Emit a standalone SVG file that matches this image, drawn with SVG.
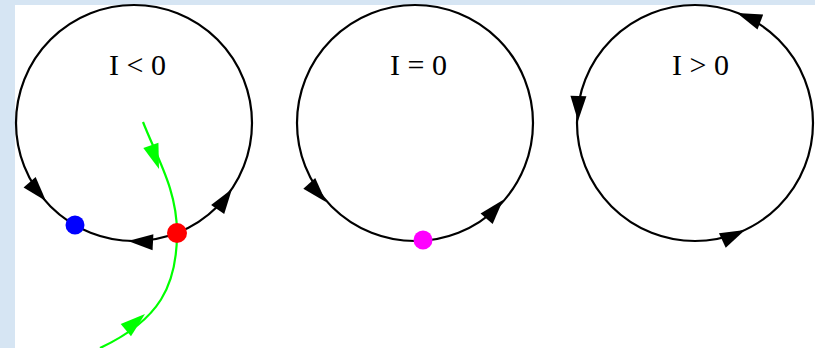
<svg xmlns="http://www.w3.org/2000/svg" xmlns:xlink="http://www.w3.org/1999/xlink" width="815" height="348" viewBox="0 0 815 348">
<style>
.orbit{fill:none;stroke:#000;stroke-width:2.2}
.traj{fill:none;stroke:#00ff00;stroke-width:2.2}
.lbl{font-family:"Liberation Serif","Times New Roman",serif;font-size:30px;fill:#000}
.ab{fill:#000}
.ag{fill:#00ff00}
</style>
<defs>
<polygon id="ah" points="0,0 -25,-8 -25,8"/>
</defs>
<rect x="0" y="0" width="815" height="348" fill="#d6e5f3"/>
<rect x="15" y="5" width="800" height="343" fill="#ffffff"/>

<g id="panel-neg">
<circle class="orbit" cx="134" cy="123" r="118"/>
<text class="lbl" x="109" y="75">I &lt; 0</text>
<use xlink:href="#ah" class="ab" transform="translate(46,201) rotate(49)"/>
<use xlink:href="#ah" class="ab" transform="translate(128,241) rotate(183)"/>
<use xlink:href="#ah" class="ab" transform="translate(232,189) rotate(-55)"/>
</g>

<g id="connectors">
<path class="traj" d="M143,122 C158,160 177,190 177,233 C177,285 160,320 100,348"/>
<use xlink:href="#ah" class="ag" transform="translate(159,169) rotate(71)"/>
<use xlink:href="#ah" class="ag" transform="translate(145,314) rotate(-40)"/>
</g>

<g id="node-stable">
<circle cx="75" cy="225" r="9.5" fill="#0000ff"/>
</g>
<g id="node-saddle">
<circle cx="177" cy="233" r="10" fill="#ff0000"/>
</g>

<g id="panel-zero">
<circle class="orbit" cx="415" cy="123" r="118"/>
<text class="lbl" x="390" y="75">I = 0</text>
<use xlink:href="#ah" class="ab" transform="translate(326,202) rotate(48)"/>
<use xlink:href="#ah" class="ab" transform="translate(503,200) rotate(-49)"/>
<circle id="node-saddlenode" cx="423" cy="240" r="9.5" fill="#ff00ff"/>
</g>

<g id="panel-pos">
<circle class="orbit" cx="695" cy="123" r="118"/>
<text class="lbl" x="672" y="75">I &gt; 0</text>
<use xlink:href="#ah" class="ab" transform="translate(737,13) rotate(201)"/>
<use xlink:href="#ah" class="ab" transform="translate(578,121) rotate(91)"/>
<use xlink:href="#ah" class="ab" transform="translate(745,230) rotate(-25)"/>
</g>
</svg>
